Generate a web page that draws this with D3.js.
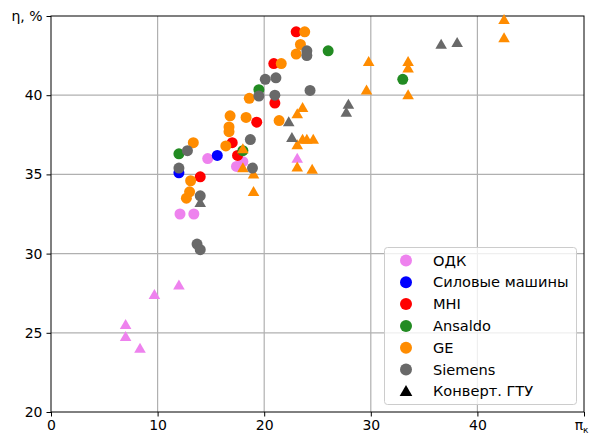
<!DOCTYPE html>
<html><head><meta charset="utf-8">
<script src="https://cdn.jsdelivr.net/npm/d3@7"></script>
<style>body{margin:0;background:#fff}svg{display:block;font-family:"DejaVu Sans",sans-serif}</style>
</head><body><svg id="c" width="589" height="435"></svg>
<script>
// Data: [pressure ratio, efficiency %]
const odkCircles = [[14.7,36.0],[12.1,32.5],[13.4,32.5],[17.4,35.5],[18.0,35.8]];
const odkTriangles = [[7.0,25.5],[7.0,24.75],[8.35,24.0],[9.7,27.4],[12.0,28.0],[23.1,36.0]];
const silmashCircles = [[15.6,36.2],[12.0,35.1]];
const mhiCircles = [[23.0,44.0],[20.9,42.0],[21.0,39.5],[19.3,38.3],[17.0,37.0],[17.5,36.2],[14.0,34.85]];
const ansaldoCircles = [[26.0,42.8],[33.0,41.0],[19.5,40.35],[12.0,36.3],[18.0,36.5]];
const geCircles = [[23.8,44.0],[23.4,43.2],[23.0,42.6],[21.6,42.0],[18.6,39.8],[16.8,38.7],[16.7,38.0],[16.7,37.7],[18.3,38.6],[21.4,38.4],[16.4,36.8],[13.35,37.0],[13.1,34.6],[13.0,33.9],[12.7,33.5]];
const geTriangles = [[42.5,44.75],[42.5,43.6],[29.8,42.1],[33.5,42.1],[33.5,41.7],[29.6,40.3],[33.5,40.0],[23.6,39.2],[23.1,38.8],[23.1,36.85],[23.6,37.2],[24.0,37.2],[24.6,37.2],[23.1,35.45],[24.5,35.3],[18.0,35.4],[19.0,35.0],[19.0,33.9],[18.0,36.6]];
const siemensCircles = [[24.0,42.8],[24.0,42.5],[20.1,41.0],[21.1,41.1],[24.3,40.3],[19.5,39.95],[21.0,40.0],[18.7,37.2],[12.8,36.5],[12.0,35.4],[18.9,35.4],[14.0,33.65],[13.7,30.6],[14.0,30.25]];
const siemensTriangles = [[14.0,33.2],[22.3,38.3],[22.6,37.3],[27.9,39.4],[27.7,38.9],[36.6,43.2],[38.1,43.3]];

const xTicks = [0,10,20,30,40,50];
const yTicks = [20,25,30,35,40,45];
const legendLabels = ["ОДК","Силовые машины","MHI","Ansaldo","GE","Siemens","Конверт. ГТУ"];
const colors = {odk:"#ee82ee", silmash:"#0000ff", mhi:"#ff0000", ansaldo:"#228b22", ge:"#ff8c00", siemens:"#696969"};

const svg = d3.select("#c");
const L=51,R=584,T=16,B=412;
const x = d3.scaleLinear().domain([0,50]).range([L,R]);
const y = d3.scaleLinear().domain([20,45]).range([B,T]);

// grid
const g = svg.append("g");
g.selectAll(".gx").data(xTicks.slice(1,-1)).enter().append("line")
 .attr("x1",d=>x(d)).attr("x2",d=>x(d)).attr("y1",T).attr("y2",B)
 .attr("stroke","#b0b0b0").attr("stroke-width",1.2);
g.selectAll(".gy").data(yTicks.slice(1,-1)).enter().append("line")
 .attr("y1",d=>y(d)).attr("y2",d=>y(d)).attr("x1",L).attr("x2",R)
 .attr("stroke","#b0b0b0").attr("stroke-width",1.2);

// axes
const xAxis = d3.axisBottom(x).tickValues(xTicks).tickSize(4.5).tickPadding(4)
  .tickFormat(d=> d===50 ? "" : d);
const yAxis = d3.axisLeft(y).tickValues(yTicks).tickSize(4.5).tickPadding(4)
  .tickFormat(d=> d===45 ? "η, %" : d);
const gx = svg.append("g").attr("transform",`translate(0,${B})`).call(xAxis);
const gy = svg.append("g").attr("transform",`translate(${L},0)`).call(yAxis);
[gx,gy].forEach(a=>{
  a.select(".domain").remove();
  a.selectAll("line").attr("stroke","#000").attr("stroke-width",1);
  a.selectAll("text").attr("font-size","14px").attr("fill","#000").attr("font-family","DejaVu Sans");
});
// x label in place of the last tick (kept inside the window)
const lastX = gx.selectAll(".tick").filter(d=>d===50).select("text");
lastX.attr("text-anchor","end").attr("x",588-R);
lastX.text("π").append("tspan").attr("font-size","9px").attr("dy","3").text("к");

// frame
svg.append("rect").attr("x",L).attr("y",T).attr("width",R-L).attr("height",B-T)
 .attr("fill","none").attr("stroke","#000").attr("stroke-width",1);

const plot = svg.append("g");
const circ = (data,col)=> plot.append("g").selectAll("circle").data(data).enter().append("circle")
  .attr("cx",d=>x(d[0])).attr("cy",d=>y(d[1])).attr("r",5.5).attr("fill",col);
const tri = d3.symbol().type(d3.symbolTriangle).size(58);
const tris = (data,col)=> plot.append("g").selectAll("path").data(data).enter().append("path")
  .attr("d",tri).attr("transform",d=>`translate(${x(d[0])},${y(d[1])+0.8})`).attr("fill",col);

circ(odkCircles,colors.odk); tris(odkTriangles,colors.odk);
circ(silmashCircles,colors.silmash);
circ(mhiCircles,colors.mhi);
circ(ansaldoCircles,colors.ansaldo);
circ(geCircles,colors.ge); tris(geTriangles,colors.ge);
circ(siemensCircles,colors.siemens); tris(siemensTriangles,colors.siemens);

// legend
const lg = svg.append("g");
lg.append("rect").attr("x",384.5).attr("y",247.5).attr("width",192).attr("height",157).attr("rx",3)
 .attr("fill","#fff").attr("fill-opacity",0.8).attr("stroke","#cccccc").attr("stroke-width",1);
const legCols = [colors.odk,colors.silmash,colors.mhi,colors.ansaldo,colors.ge,colors.siemens,"#000"];
legendLabels.forEach((lab,i)=>{
  const yy = 260.5 + i*21.8;
  if(i<6) lg.append("circle").attr("cx",406).attr("cy",yy).attr("r",6).attr("fill",legCols[i]);
  else lg.append("path").attr("d",d3.symbol().type(d3.symbolTriangle).size(70)).attr("transform",`translate(406,${yy+1})`).attr("fill","#000");
  lg.append("text").attr("x",433).attr("y",yy).attr("dy","0.35em").attr("font-size","14.6px").attr("fill","#000").text(lab);
});
</script></body></html>
